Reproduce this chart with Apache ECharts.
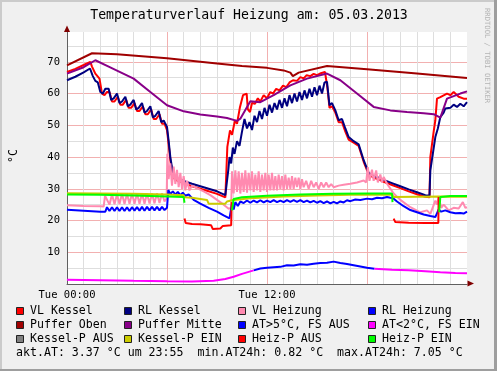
<!DOCTYPE html>
<html><head><meta charset="utf-8">
<script src="https://cdn.jsdelivr.net/npm/echarts/dist/echarts.min.js"></script>
<style>html,body{margin:0;padding:0;background:#f0f0f0;}#c{width:497px;height:371px;}</style>
</head><body><div id="c"></div>
<script>
const titleText = 'Temperaturverlauf Heizung am: 05.03.2013';
const yName = '°C';
const xLabels = {0: 'Tue 00:00', 12: 'Tue 12:00'};
const footerText = 'akt.AT: 3.37 °C um 23:55  min.AT24h: 0.82 °C  max.AT24h: 7.05 °C';

const legendNames = ['VL Kessel','RL Kessel','VL Heizung','RL Heizung','Puffer Oben','Puffer Mitte','AT>5°C, FS AUS','AT<2°C, FS EIN','Kessel-P AUS','Kessel-P EIN','Heiz-P AUS','Heiz-P EIN'];
const legendColors = ['#ff0000','#000080','#ff8ab0','#0000ff','#a00000','#880088','#0000ff','#ff00ff','#808080','#cccc00','#ff0000','#00ff00'];

// [hour, °C]
const vlKessel = [[0,66.8],[0.5,67.8],[1.0,69],[1.4,70],[1.5,68.5],[1.7,66.3],[1.95,64.7],[2.1,60],[2.25,59.5],[2.4,60.5],[2.55,60.5],[2.7,57.5],[2.85,57.5],[3.05,59],[3.2,56.5],[3.35,56.5],[3.55,58],[3.7,55.5],[3.85,55.5],[4.05,57],[4.2,54.5],[4.35,54.5],[4.55,56],[4.7,53.5],[4.85,53.5],[5.05,55],[5.2,52],[5.35,52],[5.55,53.5],[5.7,50.5],[5.85,50.5],[6.0,48.5],[6.1,44],[6.2,39],[6.35,34],[6.5,32.8],[7,31.8],[7.5,30.8],[8,30],[8.5,29.2],[9,28.4],[9.5,27.3],[9.58,27.3],[9.62,43.2],[9.78,48.4],[9.9,47],[10.08,51.6],[10.2,50.5],[10.38,55.8],[10.56,59.5],[10.78,60],[10.85,55],[10.98,54.2],[11.1,57],[11.28,56.8],[11.45,58.5],[11.6,57.5],[11.8,59.5],[12.0,58.5],[12.2,60.5],[12.36,60],[12.55,61.5],[12.75,61],[12.96,62.5],[13.15,62],[13.35,63.5],[13.56,64.2],[13.8,64],[14.0,65.2],[14.2,64.8],[14.38,65.8],[14.6,65.5],[14.8,66.2],[15.0,65.8],[15.18,66.3],[15.48,66.8],[15.62,62],[15.75,55.5],[15.9,56],[16.1,54],[16.3,51],[16.5,51],[16.7,48],[16.9,45.5],[17.2,44.5],[17.5,43.5],[17.8,38.5],[18.1,34.5],[18.4,33.5],[18.7,33],[19,32.2],[19.5,31.2],[20,30.2],[20.5,29.2],[21,28.3],[21.5,27.5],[21.75,27.3],[21.8,40],[22.0,48],[22.1,51.6],[22.2,58.4],[22.4,58.9],[22.8,60],[23.0,59.5],[23.2,60.5],[23.5,59],[23.8,58.4],[24,58.4]];

const rlKessel = [[0,64.2],[0.5,65.3],[1.0,66.7],[1.38,67.9],[1.55,65.5],[1.7,64],[1.85,63.5],[2.0,60.5],[2.15,60],[2.3,61.5],[2.5,61.5],[2.65,58],[2.8,58.5],[3.0,60],[3.15,57],[3.3,57.5],[3.5,59],[3.65,56],[3.8,56.5],[4.0,58],[4.15,55],[4.3,55.5],[4.5,57],[4.65,54],[4.8,54.5],[5.0,56],[5.15,52.5],[5.3,53],[5.5,54.5],[5.65,51],[5.8,51.5],[6.0,49.5],[6.1,45],[6.2,40],[6.35,35],[6.5,33.5],[7,32.5],[7.5,31.6],[8,30.8],[8.5,30],[9,29.2],[9.5,28],[9.62,27.9],[9.68,36],[9.75,40],[9.85,38],[9.95,43],[10.05,41],[10.2,45],[10.35,43.5],[10.5,48],[10.65,52],[10.8,49],[10.95,51],[11.1,48.5],[11.25,53],[11.4,51],[11.55,54.5],[11.7,52],[11.85,55.5],[12.0,53],[12.15,56.5],[12.3,54],[12.45,57],[12.6,55],[12.75,58],[12.9,55.5],[13.05,58.5],[13.2,56],[13.35,59.5],[13.5,57],[13.65,60],[13.8,57.5],[13.95,60.5],[14.1,58],[14.25,61],[14.4,58.5],[14.55,61.5],[14.7,59],[14.85,62],[15.0,59.5],[15.15,62.5],[15.3,60],[15.45,63.5],[15.6,63.7],[15.75,56.3],[15.9,57],[16.1,54.7],[16.3,51.6],[16.5,52],[16.7,49],[16.9,46.3],[17.2,45],[17.5,44],[17.8,39],[18.1,35],[18.4,34],[18.7,33.5],[19,32.8],[19.5,31.8],[20,30.8],[20.5,29.8],[21,28.9],[21.5,28],[21.75,27.9],[21.8,35.8],[22.1,46.3],[22.25,49],[22.4,52.6],[22.6,54],[22.7,55.3],[23,55.5],[23.2,56.5],[23.4,55.8],[23.6,56.8],[23.8,56],[24,57.3]];

const vlHeizung = [[0,24.8],[1,24.6],[2,24.5],[2.2,24.4],[2.28,27.8],[2.4,28.2],[2.55,25],[2.7,28.3],[2.85,25.1],[3.0,28.3],[3.15,25.2],[3.3,28.4],[3.45,25.2],[3.6,28.4],[3.75,25.3],[3.9,28.5],[4.05,25.3],[4.2,28.5],[4.35,25.3],[4.5,28.5],[4.65,25.3],[4.8,28.5],[4.95,25.4],[5.1,28.5],[5.25,25.4],[5.4,28.6],[5.55,25.5],[5.7,28.6],[5.85,26],[5.98,27],[6.02,41],[6.1,33],[6.2,38],[6.3,31],[6.4,37],[6.5,31.5],[6.6,36],[6.7,30.5],[6.8,35],[6.9,30],[7.0,34],[7.1,29.5],[7.2,32.5],[7.35,29.5],[7.5,31],[7.8,30.2],[8.2,29.2],[8.6,28],[9.0,26.5],[9.4,25],[9.7,23.7],[9.85,24],[9.9,35.5],[10.0,28.5],[10.1,35.8],[10.2,29],[10.3,35.5],[10.4,28.5],[10.5,35],[10.6,29],[10.7,35.8],[10.8,28.8],[10.9,35],[11.0,29.5],[11.1,35.5],[11.2,29],[11.3,34.5],[11.4,29.5],[11.5,35.5],[11.6,29],[11.7,34.5],[11.8,29.5],[11.9,35],[12.0,29],[12.1,34.5],[12.2,29.5],[12.3,35],[12.4,29.5],[12.5,34],[12.6,29.5],[12.7,34.5],[12.8,30],[12.9,34],[13.0,29.5],[13.1,34.5],[13.2,30],[13.3,33.5],[13.4,30],[13.5,34],[13.6,30],[13.7,33.5],[13.8,30.5],[13.9,33.5],[14.0,30],[14.1,33],[14.2,30.5],[14.35,32.5],[14.5,30],[14.65,32.5],[14.8,30.5],[14.95,32],[15.1,30],[15.25,32],[15.4,30.5],[15.55,32],[15.7,30.5],[15.85,31.5],[16.0,30.5],[16.3,31],[16.6,31.3],[17.0,31.6],[17.4,32],[17.8,32.6],[17.95,32],[18.05,36.8],[18.15,32.5],[18.3,36],[18.4,32.5],[18.55,35.8],[18.65,32],[18.8,34.5],[18.9,32],[19.0,33.7],[19.2,31.6],[19.6,28.5],[20.0,26.5],[20.6,24.2],[21.2,22.6],[21.6,23.2],[21.8,22.1],[22.1,26.3],[22.2,25],[22.3,27.5],[22.45,24],[22.6,25],[22.9,23.2],[23.2,24],[23.5,23.8],[23.75,25.8],[23.9,24],[24,24.2]];

const rlHeizung = [[0,23.4],[1,23.1],[2,22.8],[2.3,22.8],[2.4,24.2],[2.55,23],[2.7,24.2],[2.85,23],[3.0,24.2],[3.15,23],[3.3,24.2],[3.45,23],[3.6,24.2],[3.75,23],[3.9,24.2],[4.05,23.1],[4.2,24.2],[4.35,23.1],[4.5,24.3],[4.65,23.1],[4.8,24.3],[4.95,23.2],[5.1,24.3],[5.25,23.2],[5.4,24.3],[5.55,23.2],[5.7,24.3],[5.85,23.3],[6.0,24],[6.08,29.6],[6.2,28.3],[6.35,29.2],[6.5,28.2],[6.65,29],[6.8,28],[6.95,28.8],[7.1,27.8],[7.3,28.2],[7.6,26.5],[8,25.3],[8.5,24],[9,22.8],[9.4,21.6],[9.75,20.7],[9.85,21],[9.9,25.3],[10.0,23.5],[10.1,25.8],[10.25,24.6],[10.4,26],[10.6,25.5],[10.8,26.3],[11,25.6],[11.2,26.3],[11.4,25.7],[11.6,26.4],[11.8,25.7],[12,26.3],[12.2,25.8],[12.4,26.4],[12.6,25.8],[12.8,26.3],[13,25.8],[13.2,26.4],[13.4,25.9],[13.6,26.4],[13.8,25.9],[14,26.4],[14.2,25.8],[14.4,26.3],[14.6,25.7],[14.8,26.2],[15,25.6],[15.2,26.1],[15.4,25.5],[15.6,26],[15.8,25.4],[16,25.9],[16.2,25.4],[16.4,26],[16.6,25.7],[16.8,26.4],[17,26.1],[17.3,26.6],[17.6,26.5],[18,26.9],[18.3,26.7],[18.6,27.2],[18.9,27],[19.2,27.4],[19.4,27.2],[19.55,27.1],[19.8,26],[20.2,24.5],[20.6,23.3],[21,22.6],[21.4,21.9],[21.8,21.4],[22.1,21.1],[22.3,23.5],[22.45,22.8],[22.7,23.2],[23,22.6],[23.3,22.3],[23.6,22.4],[23.8,22.2],[24,22.8]];

const pufferOben = [[0,68.9],[1.5,72.7],[3,72.4],[6,71.1],[9,69.5],[10.5,68.7],[12,68.1],[13,67.3],[13.4,66.6],[13.55,65.5],[13.9,66.6],[15.6,68.7],[18,67.7],[21,66.3],[24,64.9]];

const pufferMitte = [[0,66.3],[1.0,68.3],[1.7,70.5],[2.5,68.5],[4,64.7],[5,60.5],[6,56.3],[7,54.4],[8,53.4],[9,52.8],[9.6,52.3],[10.2,51.4],[10.4,52.1],[11,57.6],[11.6,57.3],[12.4,59.5],[13.4,62.6],[14.4,64.7],[15.6,66.3],[16.4,64.2],[17.4,60.0],[18.4,55.8],[19.4,54.7],[20.4,54.2],[21.4,53.8],[22.0,53.5],[22.4,52.4],[22.8,58.4],[23.6,60],[24,60.7]];

const atHigh = [[11.2,4.3],[11.6,4.9],[12.0,5.1],[12.4,5.3],[12.8,5.4],[13.2,5.9],[13.6,5.8],[14.0,6.2],[14.4,6.1],[14.8,6.4],[15.2,6.6],[15.6,6.7],[16.0,7.05],[16.4,6.6],[16.8,6.3],[17.2,5.9],[17.6,5.5],[18.0,5.1],[18.45,4.8]];

const atLow = [[0,1.3],[2,1.2],[4,1.0],[6,0.85],[7.5,0.82],[8.8,1.0],[9.5,1.6],[10,2.3],[10.5,3.2],[11.2,4.3],[11.25,null],[18.4,null],[18.45,4.8],[19.5,4.5],[20.5,4.3],[21.5,4.0],[22.4,3.7],[23.3,3.5],[24,3.37]];

const kesselPAus = [];

const kesselPEin = [[0,28.6],[2,28.5],[4,28.4],[6,28.2],[7,28.0],[7.05,27.3],[7.5,27.2],[8.4,26.5],[8.5,25.3],[9.5,25.3],[9.6,26],[9.9,26.4],[11,27],[13,27.6],[15,27.9],[17,28.1],[19.5,28.2],[19.6,27.4],[21,27.5],[22.3,27.6],[24,27.5]];

const heizPAus = [[7.05,20.6],[7.12,19.2],[7.5,18.9],[8,18.8],[8.5,18.6],[8.65,18.5],[8.75,17.3],[9.2,17.5],[9.35,18.3],[9.85,18.5],[9.88,25.8],[9.9,null],[19.55,null],[19.6,20.6],[19.7,19.5],[20.5,19.3],[21.5,19.2],[22.28,19.2],[22.3,27.4]];

const heizPEin = [[0,28.2],[2,28.1],[4,27.9],[6,27.6],[7.0,27.4],[7.05,25.6],[7.1,null],[9.88,null],[9.9,23.2],[10.0,26.8],[10.5,27.3],[12,27.8],[14,28.2],[16,28.4],[18,28.5],[19.5,28.5],[19.53,25.8],[19.56,null],[22.3,null],[22.33,22.6],[22.4,27.4],[23,27.7],[24,27.7]];

const seriesData = [vlKessel, rlKessel, vlHeizung, rlHeizung, pufferOben, pufferMitte, atHigh, atLow, kesselPAus, kesselPEin, heizPAus, heizPEin];

const MONO = 'DejaVu Sans Mono';
const MAJ = '#f2b0b0', MIN = '#dedede';

const series = seriesData.map((d, i) => ({
  name: legendNames[i], type: 'line', data: d, showSymbol: false, symbol: 'none',
  connectNulls: false, lineStyle: {color: legendColors[i], width: 2}, itemStyle: {color: legendColors[i]},
  animation: false, silent: true
}));

const graphic = [
  {type:'rect', shape:{x:0,y:0,width:497,height:2}, style:{fill:'#cbcbcb'}},
  {type:'rect', shape:{x:0,y:0,width:2,height:371}, style:{fill:'#cbcbcb'}},
  {type:'rect', shape:{x:494,y:0,width:3,height:371}, style:{fill:'#9e9e9e'}},
  {type:'rect', shape:{x:0,y:369,width:497,height:2}, style:{fill:'#9e9e9e'}},
  {type:'text', x:249, y:16, style:{text:titleText, font:'13.2px "DejaVu Sans Mono"', fill:'#000', align:'center', verticalAlign:'middle'}},
  {type:'text', x:14, y:156, rotation:Math.PI/2, style:{text:yName, font:'11.5px "DejaVu Sans Mono"', fill:'#000', align:'center', verticalAlign:'middle'}},
  {type:'text', x:487, y:8, rotation:-Math.PI/2, style:{text:'RRDTOOL / TOBI OETIKER', font:'7.2px "DejaVu Sans Mono"', fill:'#b4b4b4', align:'left', verticalAlign:'middle'}},
  {type:'polygon', shape:{points:[[64,32],[70,32],[67,25.5]]}, style:{fill:'#800000'}, z:100},
  {type:'polygon', shape:{points:[[467.5,280.5],[467.5,286.5],[474,283.5]]}, style:{fill:'#800000'}, z:100},
  {type:'text', x:16, y:353, style:{text:footerText, font:'11.6px "DejaVu Sans Mono"', fill:'#000', align:'left', verticalAlign:'middle'}}
];
const colX = [30, 138, 252, 382];
const rowY = [311, 325, 339];
legendNames.forEach((n, i) => {
  const cx = colX[i % 4], cy = rowY[Math.floor(i / 4)];
  graphic.push({type:'rect', shape:{x:cx-13.5, y:cy-3.5, width:7, height:7}, style:{fill:legendColors[i], stroke:'#222', lineWidth:1}});
  graphic.push({type:'text', x:cx, y:cy, style:{text:n, font:'11.6px "DejaVu Sans Mono"', fill:'#000', align:'left', verticalAlign:'middle'}});
});

const chart = echarts.init(document.getElementById('c'), null, {renderer:'canvas'});
chart.setOption({
  backgroundColor: '#f0f0f0',
  animation: false,
  grid: {left:67, top:32, width:400, height:252, show:true, backgroundColor:'#ffffff', borderWidth:0},
  xAxis: {
    type:'value', min:0, max:24, interval:1,
    axisLine:{show:true, onZero:false, lineStyle:{color:'#606060', width:1}},
    axisTick:{show:false},
    axisLabel:{formatter: v => xLabels[v] || '', fontFamily:MONO, fontSize:10.5, color:'#000', margin:6},
    splitLine:{show:true, showMinLine:true, showMaxLine:false, lineStyle:{color:[MAJ,MIN,MIN,MIN,MIN,MIN], width:1}}
  },
  yAxis: {
    type:'value', min:0, max:79.4, interval:5,
    axisLine:{show:true, onZero:false, lineStyle:{color:'#606060', width:1}},
    axisTick:{show:false},
    axisLabel:{formatter: v => (v > 0 && v % 10 === 0) ? String(v) : '', fontFamily:MONO, fontSize:10.5, color:'#000', margin:7},
    splitLine:{show:true, showMaxLine:false, lineStyle:{color:[MAJ,MIN], width:1}}
  },
  series: series,
  graphic: graphic
});
</script></body></html>
